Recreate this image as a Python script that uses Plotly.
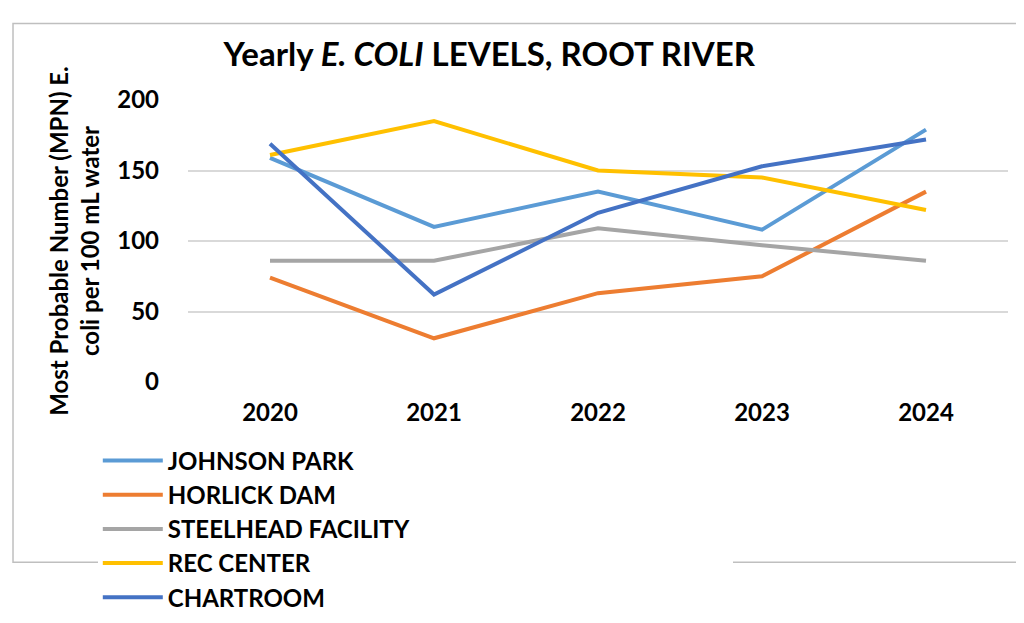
import plotly.graph_objects as go

years = ["2020", "2021", "2022", "2023", "2024"]
johnson_park = [159, 110, 135, 108, 179]
horlick_dam = [74, 31, 63, 75, 135]
steelhead = [86, 86, 109, 97, 86]
rec_center = [161, 185, 150, 145, 122]
chartroom = [169, 62, 120, 153, 172]

series = [
    ("JOHNSON PARK", johnson_park, "#5B9BD5"),
    ("HORLICK DAM", horlick_dam, "#ED7D31"),
    ("STEELHEAD FACILITY", steelhead, "#A5A5A5"),
    ("REC CENTER", rec_center, "#FFC000"),
    ("CHARTROOM", chartroom, "#4472C4"),
]

fig = go.Figure()
for name, vals, col in series:
    fig.add_trace(go.Scatter(x=years, y=vals, mode="lines", name=name,
                             line=dict(color=col, width=4)))

font = "Lato, 'Liberation Sans', sans-serif"
fig.update_layout(
    width=1024, height=623,
    margin=dict(l=180, r=24, t=92, b=210),
    paper_bgcolor="white", plot_bgcolor="white",
    font=dict(family=font, size=24, color="black"),
    title=dict(text="<b>Yearly <i>E. COLI</i> LEVELS, ROOT RIVER</b>",
               x=0.47, xanchor="center", y=0.925, yanchor="middle",
               font=dict(size=33)),
    xaxis=dict(type="category", range=[-0.5, 4.5], showgrid=False, showline=False,
               tickfont=dict(size=24, family=font, weight="bold"), ticks="",
               ticklabelstandoff=14),
    yaxis=dict(range=[0, 200], dtick=50, gridcolor="#D9D9D9", gridwidth=1.5,
               zeroline=False, tickfont=dict(size=24, family=font, weight="bold"),
               ticklabelstandoff=28,
               title=dict(text="<b>Most Probable Number (MPN) E.<br>coli per 100 mL water</b>",
                          font=dict(size=24), standoff=10)),
    legend=dict(orientation="h", x=-0.11, xanchor="left", y=-0.2, yanchor="top",
                entrywidth=560, entrywidthmode="pixels",
                font=dict(size=24, family=font, weight="bold"),
                tracegroupgap=0, itemwidth=60),
    shapes=[dict(type="rect", xref="paper", yref="paper", x0=-0.2134, x1=1.023,
                 y0=-0.639, y1=1.271, line=dict(color="#BFBFBF", width=1.5))],
)
fig.write_html("out.html")
